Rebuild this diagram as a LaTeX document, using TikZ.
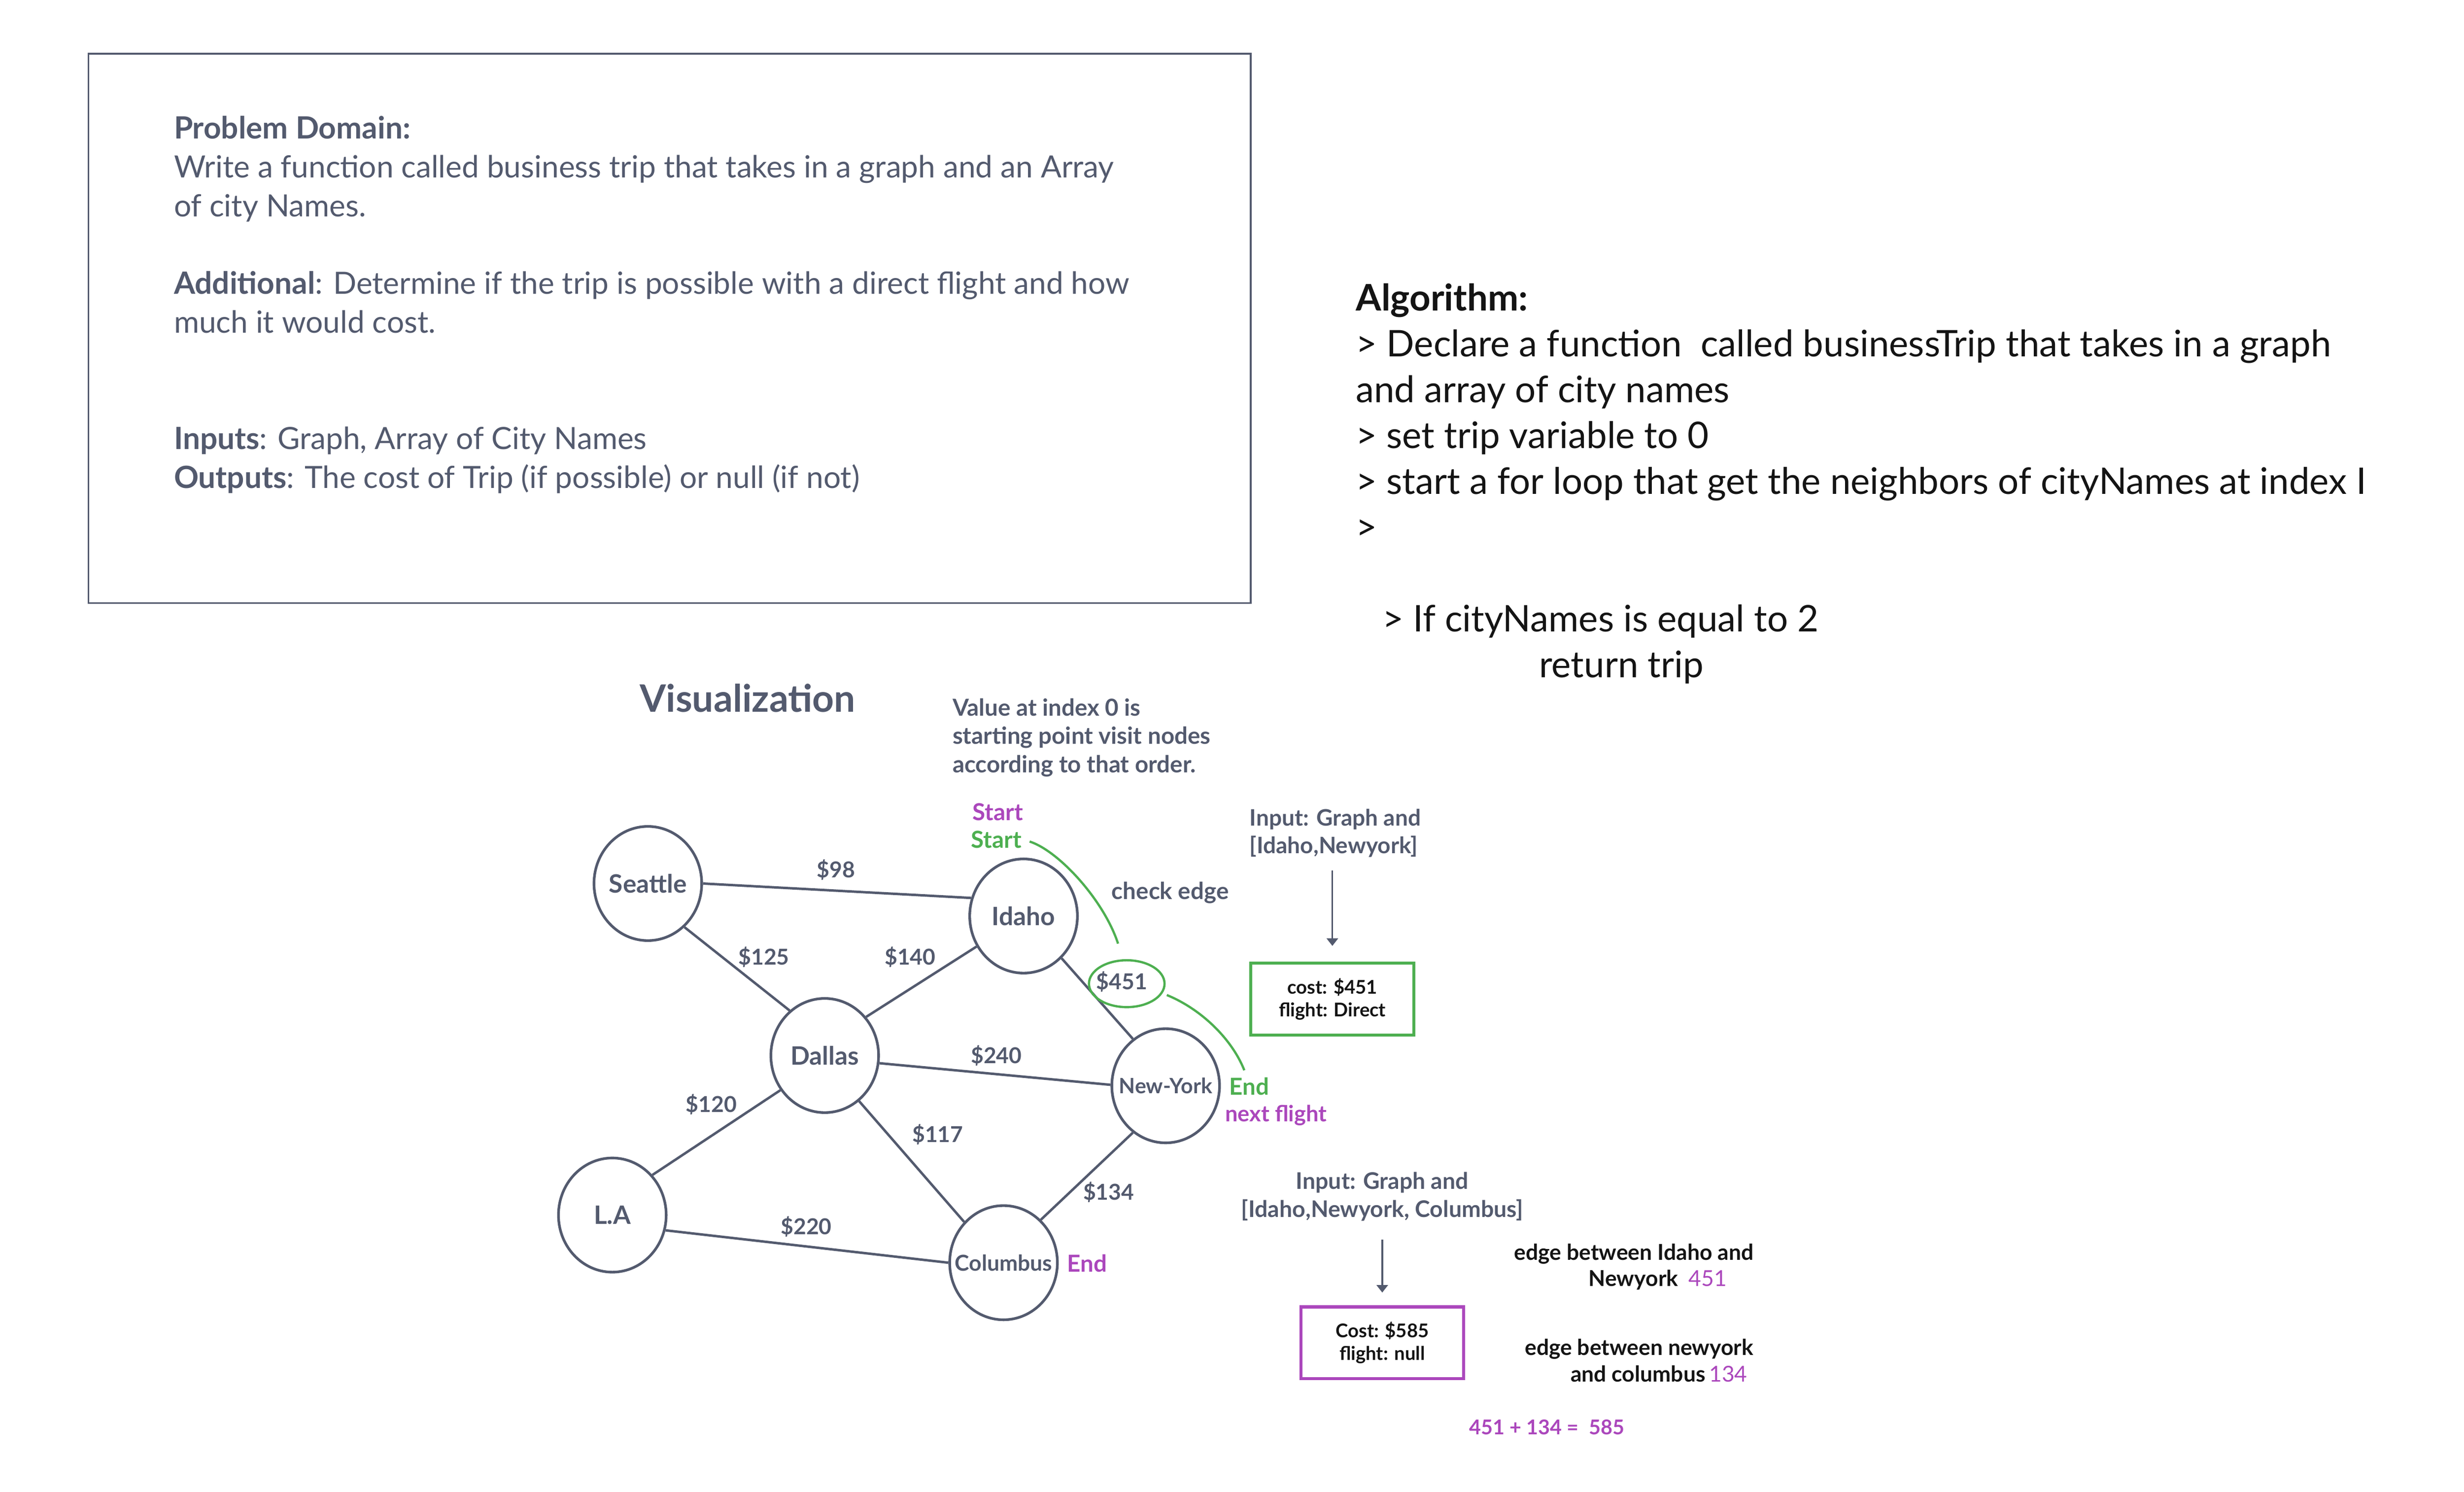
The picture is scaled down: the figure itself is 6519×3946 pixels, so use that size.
\documentclass[tikz,border=0pt]{standalone}
\usepackage{fontspec}
\setmainfont{Lato}
\usetikzlibrary{positioning, arrows.meta, shapes.geometric}

\definecolor{slate}{RGB}{83,90,110}
\definecolor{ink}{RGB}{20,20,20}
\definecolor{leaf}{RGB}{77,175,80}
\definecolor{plum}{RGB}{171,71,188}
\newcommand{\fs}[2]{\fontsize{#1}{#2}\selectfont}

\begin{document}
\begin{tikzpicture}[x=0.1pt, y=-0.1pt, inner sep=0pt, line width=0.65pt,
  city/.style = {draw=slate, ellipse, inner sep=-4pt, line width=0.7pt, minimum width=28.5pt, minimum height=30.2pt, text=slate, font=\fs{6.7}{8}\bfseries},
  price/.style = {text=slate, font=\fs{5.8}{7}\bfseries},
  note/.style = {text=slate, font=\fs{6.2}{7.5}\bfseries, align=left},
  tally/.style = {anchor=base west, text=ink, font=\fs{5.8}{7}\bfseries},
  result/.style = {draw, line width=0.8pt, minimum width=43.1pt, minimum height=19pt, align=center, text=ink, font=\fs{5}{6}\bfseries},
  hint/.style = {leaf, line width=0.6pt},
  feed/.style = {draw=slate, line width=0.45pt, -{Triangle[length=2pt,width=3pt]}}]

\useasboundingbox (0,0) rectangle (6519,3946);

% problem box
\draw[slate, line width=0.45pt] (234,142) rectangle (3309,1595);
\node[anchor=north west, align=left, text=slate, font=\fs{8.1}{10.26}] (domain) at (457,304)
  {{\bfseries Problem Domain:}\\
   Write a function called business trip that takes in a graph and an Array\\
   of city Names.\\[10.26pt]
   {\bfseries Additional}: Determine if the trip is possible with a direct flight and how\\
   much it would cost.\\[20.52pt]
   {\bfseries Inputs}: Graph, Array of City Names\\
   {\bfseries Outputs}: The cost of Trip (if possible) or null (if not)};

% algorithm
\node[anchor=north west, align=left, text=ink, font=\fs{9.7}{12.12}] (algo) at (3584,747)
  {{\bfseries Algorithm:}\\
   > Declare a function\ \ called businessTrip that takes in a graph\\
   and array of city names\\
   > set trip variable to 0\\
   > start a for loop that get the neighbors of cityNames at index I\\
   >\\[12.12pt]
   \hspace*{7pt}> If cityNames is equal to 2\\
   \hspace*{48.5pt}return trip};

% graph
\node[text=slate, font=\fs{10}{12}\bfseries] (vis) at (1978,1847) {Visualization};
\node[note, anchor=north west] (order) at (2517,1844)
  {Value at index 0 is\\starting point visit nodes\\according to that order.};

\node[city] (seattle) at (1714,2337) {Seattle};
\node[city] (idaho) at (2708,2423) {Idaho};
\node[city] (dallas) at (2182,2792) {Dallas};
\node[city, font=\fs{5.6}{7}\bfseries] (newyork) at (3084,2872) {New-York};
\node[city] (la) at (1620,3214) {L.A};
\node[city, font=\fs{5.8}{7}\bfseries] (columbus) at (2655,3340) {Columbus};

\draw[slate] (seattle.0) -- (idaho.161);
\draw[slate] (seattle.-50) -- (dallas.128);
\draw[slate] (dallas.43) -- (idaho.-147);
\draw[slate] (idaho.-48) -- (newyork.125);
\draw[slate] (dallas.-8) -- (newyork.179);
\draw[slate] (dallas.-142) -- (la.45);
\draw[slate] (dallas.-53) -- (columbus.134);
\draw[slate] (newyork.-125) -- (columbus.49);
\draw[slate] (la.-16) -- (columbus.180);

\node[price] (p98) at (2212,2301) {\$98};
\node[price] (p125) at (2021,2531) {\$125};
\node[price] (p140) at (2408,2531) {\$140};
\node[price] (p451) at (2968,2597) {\$451};
\node[price] (p240) at (2636,2792) {\$240};
\node[price] (p120) at (1882,2921) {\$120};
\node[price] (p117) at (2481,3001) {\$117};
\node[price] (p134) at (2933,3153) {\$134};
\node[price] (p220) at (2133,3245) {\$220};

% trip marks
\node[note, text=plum] (startA) at (2640,2148) {Start};
\node[note, text=leaf] (startB) at (2636,2221) {Start};
\node[note] (check) at (3096,2361) {check edge};
\node[note, text=leaf] (endA) at (3305,2873) {End};
\node[note, text=plum, font=\fs{5.9}{7}\bfseries] (next) at (3376,2950) {next flight};
\node[note, text=plum] (endB) at (2876,3342) {End};

\coordinate (hookA) at (2724,2226);
\coordinate (hookB) at (2958,2496);
\coordinate (hookC) at (3087,2632);
\coordinate (hookD) at (3292,2831);
\draw[hint] (hookA) .. controls (2800,2250) and (2920,2380) .. (hookB);
\draw[hint] (2981,2602) ellipse [x radius=10pt, y radius=6.2pt];
\draw[hint] (hookC) .. controls (3180,2670) and (3260,2750) .. (hookD);

% direct flight
\node[note, font=\fs{6}{7.4}\bfseries, anchor=north west] (input1) at (3303,2136)
  {Input: Graph and\\{[}Idaho,Newyork{]}};
\node[result, draw=leaf] (cost1) at (3525,2643) {cost: \$451\\flight: Direct};
\draw[feed, shorten <=3.1pt, shorten >=4.2pt] (cost1.north |- input1.south) -- (cost1.north);

% two legs
\node[note, font=\fs{6.05}{7.4}\bfseries, anchor=north, align=center] (input2) at (3657,3097)
  {Input: Graph and\\{[}Idaho,Newyork, Columbus{]}};
\node[result, draw=plum] (cost2) at (3657,3552) {Cost: \$585\\flight: null};
\draw[feed, shorten <=4.6pt, shorten >=3.4pt] (cost2.north |- input2.south) -- (cost2.north);

\node[tally] (legA) at (4003,3333) {edge between Idaho and};
\node[tally] (legB) at (4200,3402) {Newyork\ \ \textcolor{plum}{\mdseries 451}};
\node[tally] (legC) at (4031,3585) {edge between newyork};
\node[tally] (legD) at (4152,3655) {and columbus\kern1pt\textcolor{plum}{\mdseries 134}};
\node[tally, text=plum, font=\fs{5.4}{7}\bfseries] (sum) at (3884,3794) {451 + 134 =\ \ 585};
\end{tikzpicture}
\end{document}
